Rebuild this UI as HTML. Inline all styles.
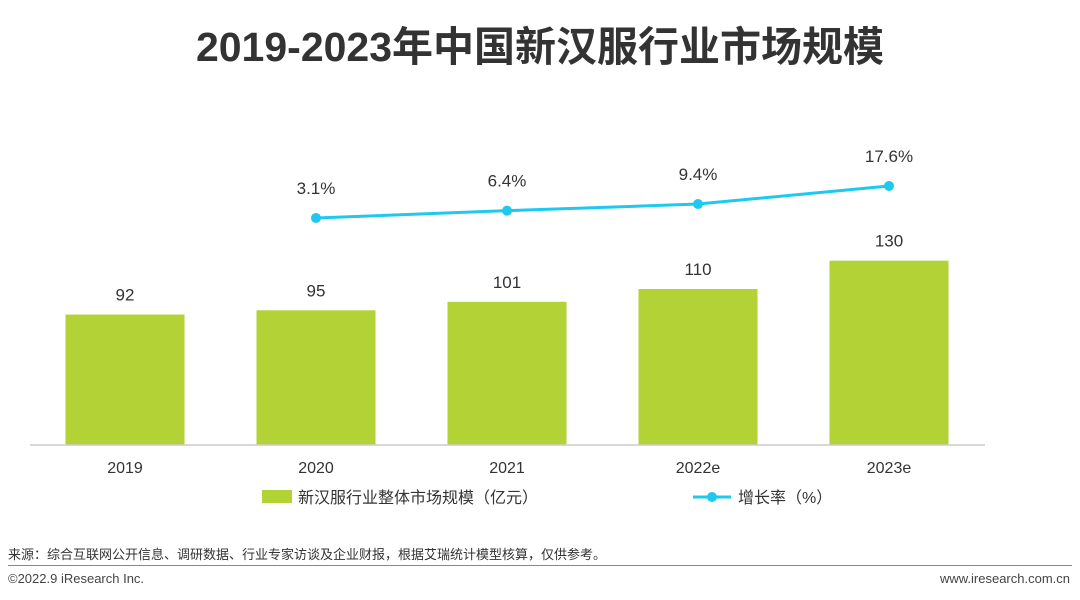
<!DOCTYPE html>
<html><head><meta charset="utf-8"><style>
body{margin:0;width:1080px;height:600px;background:#fff;font-family:"Liberation Sans","Noto Sans CJK SC",sans-serif;overflow:hidden;position:relative}
.t{position:absolute;white-space:nowrap}
</style></head><body>
<div class="t" style="left:0;width:1080px;text-align:center;top:13px;font-size:41px;font-weight:bold;color:#333">2019-2023年中国新汉服行业市场规模</div>
<svg id="c" width="1080" height="600" style="position:absolute;left:0;top:0"></svg>
<div class="t" style="left:8px;top:544px;font-size:13px;color:#333">来源：综合互联网公开信息、调研数据、行业专家访谈及企业财报，根据艾瑞统计模型核算，仅供参考。</div>
<div style="position:absolute;left:8px;top:565px;width:1064px;height:1px;background:#888"></div>
<div class="t" style="left:8px;top:571px;font-size:13px;color:#444">©2022.9 iResearch Inc.</div>
<div class="t" style="right:10px;top:571px;font-size:13px;color:#444">www.iresearch.com.cn</div>
<script>
const categories=['2019','2020','2021','2022e','2023e'];
const marketSize=[92,95,101,110,130];
const growthRate=[null,3.1,6.4,9.4,17.6];
const growthLabels=['','3.1%','6.4%','9.4%','17.6%'];
const NS='http://www.w3.org/2000/svg';
const svg=document.getElementById('c');
const base=445,step=191,x0=125,bw=119;
const xC=i=>x0+i*step;
const yBar=v=>base-v*1.418;
const yLine=v=>224.8-v*2.207;
function mk(t,a){const e=document.createElementNS(NS,t);for(const k in a)e.setAttribute(k,a[k]);svg.appendChild(e);return e;}
categories.forEach((c,i)=>{
 const r=mk('rect',{x:xC(i)-bw/2,y:yBar(marketSize[i]),width:bw,height:base-yBar(marketSize[i]),fill:'#b2d235'});
 
 
 const l=mk('text',{x:xC(i),y:yBar(marketSize[i])-14,'text-anchor':'middle','font-size':17,fill:'#333'});l.textContent=marketSize[i];
 
 
 const cl=mk('text',{x:xC(i),y:473,'text-anchor':'middle','font-size':16,fill:'#333'});cl.textContent=c;
 
 
});
const ax=mk('line',{x1:30,x2:985,y1:base,y2:base,stroke:'#ccc','stroke-width':1.5});


let pts=[];growthRate.forEach((v,i)=>{if(v!==null)pts.push(xC(i)+','+yLine(v));});
const pl=mk('polyline',{points:pts.join(' '),fill:'none',stroke:'#1ec8ef','stroke-width':3});


growthRate.forEach((v,i)=>{if(v===null)return;
 const d=mk('circle',{cx:xC(i),cy:yLine(v),r:5,fill:'#1ec8ef'});
 
 
 const t=mk('text',{x:xC(i),y:yLine(v)-24,'text-anchor':'middle','font-size':17,fill:'#333'});t.textContent=growthLabels[i];
 
 
});
const lb=mk('rect',{x:262,y:490,width:30,height:13,fill:'#b2d235'});


const lt=mk('text',{x:298,y:503,'font-size':16,fill:'#333'});lt.textContent='新汉服行业整体市场规模（亿元）';


const ll=mk('line',{x1:693,x2:731,y1:497,y2:497,stroke:'#1ec8ef','stroke-width':3});


const lc=mk('circle',{cx:712,cy:497,r:5,fill:'#1ec8ef'});


const lt2=mk('text',{x:738,y:503,'font-size':16,fill:'#333'});lt2.textContent='增长率（%）';


</script>
</body></html>
